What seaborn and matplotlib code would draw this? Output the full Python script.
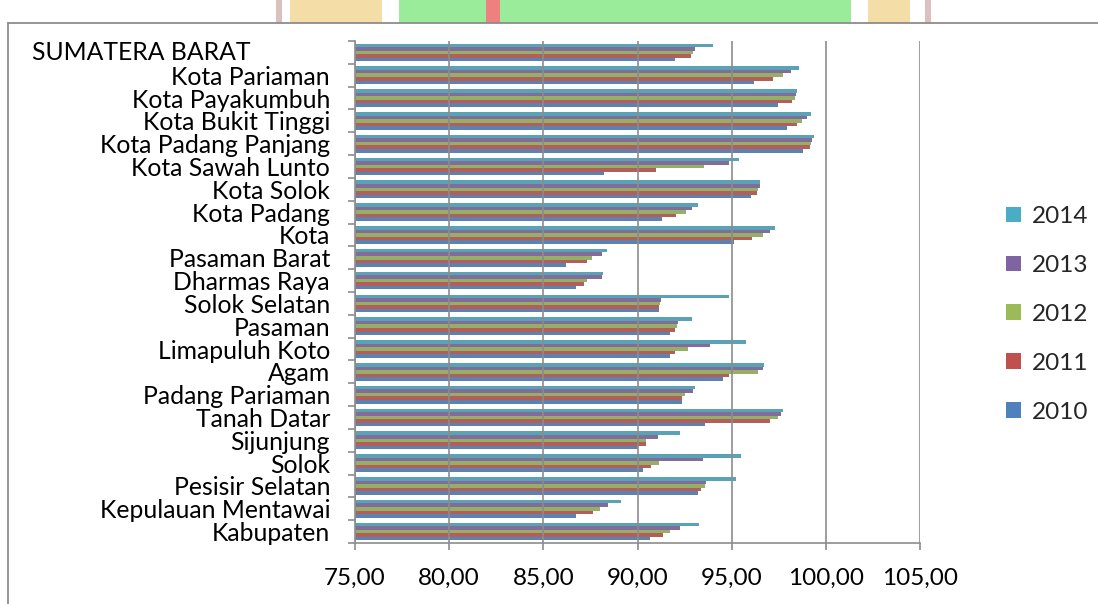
import matplotlib
matplotlib.use("Agg")
import matplotlib.pyplot as plt
import matplotlib.transforms as mtransforms
from matplotlib.patches import Rectangle, Patch
from matplotlib.lines import Line2D
import numpy as np
import pandas as pd
import seaborn as sns

# Regions, listed from the top of the chart downwards
regions = [
    "SUMATERA BARAT", "Kota Pariaman", "Kota Payakumbuh", "Kota Bukit Tinggi",
    "Kota Padang Panjang", "Kota Sawah Lunto", "Kota Solok", "Kota Padang",
    "Kota", "Pasaman Barat", "Dharmas Raya", "Solok Selatan", "Pasaman",
    "Limapuluh Koto", "Agam", "Padang Pariaman", "Tanah Datar", "Sijunjung",
    "Solok", "Pesisir Selatan", "Kepulauan Mentawai", "Kabupaten",
]

years = ["2014", "2013", "2012", "2011", "2010"]

v2014 = [94.02, 98.60, 98.48, 99.23, 99.39, 95.41, 96.52, 93.23, 97.28, 88.39, 88.17,
         94.86, 92.87, 95.77, 96.71, 93.05, 97.72, 92.26, 95.47, 95.22, 89.15, 93.29]
v2013 = [93.05, 98.15, 98.43, 99.00, 99.29, 94.86, 96.48, 92.87, 97.01, 88.09, 88.11,
         91.26, 92.15, 93.84, 96.69, 92.93, 97.64, 91.08, 93.46, 93.64, 88.46, 92.28]
v2012 = [92.97, 97.72, 98.35, 98.76, 99.23, 93.52, 96.40, 92.58, 96.65, 87.56, 87.34,
         91.22, 92.11, 92.68, 96.38, 92.54, 97.44, 90.47, 91.16, 93.60, 88.03, 91.71]
v2011 = [92.83, 97.17, 98.23, 98.48, 99.17, 90.98, 96.36, 92.07, 96.06, 87.30, 87.15,
         91.16, 91.97, 91.97, 94.88, 92.34, 97.05, 90.47, 90.73, 93.39, 87.62, 91.38]
v2010 = [91.99, 96.18, 97.48, 97.95, 98.78, 88.21, 96.04, 91.28, 95.12, 86.20, 86.73,
         91.12, 91.75, 91.75, 94.53, 92.34, 93.60, 90.02, 90.28, 93.21, 86.75, 90.69]

x_ticks = [75, 80, 85, 90, 95, 100, 105]
x_tick_labels = ["75,00", "80,00", "85,00", "90,00", "95,00", "100,00", "105,00"]

colors = {"2014": "#4BACC6", "2013": "#8064A2", "2012": "#9BBB59",
          "2011": "#C0504D", "2010": "#4F81BD"}

series = {"2014": v2014, "2013": v2013, "2012": v2012, "2011": v2011, "2010": v2010}
df = pd.DataFrame(
    [(r, y, v) for y in years for r, v in zip(regions, series[y])],
    columns=["region", "year", "value"],
)

sns.set_theme(style="white")
plt.rcParams["font.family"] = ["Lato", "DejaVu Sans"]

W, H = 1098, 604
fig = plt.figure(figsize=(W / 100, H / 100), dpi=100)
fig.patch.set_facecolor("white")

# faint logo strip above the frame
strip_y = 1 - 23 / H
def strip(x0, x1, color):
    fig.patches.append(Rectangle((x0 / W, strip_y), (x1 - x0) / W, 1 - strip_y,
                                 transform=fig.transFigure, facecolor=color,
                                 edgecolor="none", zorder=0))
strip(276, 282, "#DCC0C0")
strip(290, 382, "#F5DDA8")
strip(399, 851, "#9AEB9A")
strip(486, 500, "#EE8080")
strip(868, 910, "#F5DDA8")
strip(925, 931, "#DCC0C0")

# outer frame
grey = "#8C8C8C"
fig.add_artist(Line2D([8 / W, 1], [strip_y, strip_y], transform=fig.transFigure,
                      color=grey, lw=1.3))
fig.add_artist(Line2D([8 / W, 8 / W], [0, strip_y], transform=fig.transFigure,
                      color=grey, lw=1.3))

left, right, top, bottom = 355 / W, 920 / W, 1 - 41 / H, 1 - 543 / H
ax = fig.add_axes([left, bottom, right - left, top - bottom])
ax.set_facecolor("none")

sns.barplot(data=df, y="region", x="value", hue="year", order=regions,
            hue_order=years, palette=colors, orient="h", width=0.78, gap=0,
            legend=False, ax=ax, zorder=2, linewidth=0)

ax.set_xlim(75, 105)
ax.set_ylim(len(regions) - 0.5, -0.5)
ax.set_xlabel("")
ax.set_ylabel("")

ax.set_xticks(x_ticks)
ax.set_xticklabels(x_tick_labels, fontsize=17.5, color="black")
ax.set_yticks(range(len(regions)))
ax.set_yticklabels([""] + regions[1:], fontsize=17.8, color="black")
ax.set_yticks(np.arange(-0.5, len(regions)), minor=True)

ax.tick_params(axis="y", which="major", length=0, pad=18)
ax.tick_params(axis="y", which="minor", length=5, width=1.2, color=grey,
               direction="out", left=True)
ax.tick_params(axis="x", which="major", length=5, width=1.2, color=grey,
               direction="out", bottom=True, pad=13)

# the grand total label sits flush left
trans = mtransforms.blended_transform_factory(fig.transFigure, ax.transData)
ax.text(32 / W, 0, regions[0], transform=trans, ha="left", va="center",
        fontsize=17.8, color="black")

ax.xaxis.grid(True, color=grey, lw=1.2, zorder=3)
ax.set_axisbelow(False)
for side in ["top", "right"]:
    ax.spines[side].set_visible(False)
for side in ["left", "bottom"]:
    ax.spines[side].set_visible(True)
    ax.spines[side].set_color(grey)
    ax.spines[side].set_linewidth(1.2)

handles = [Patch(facecolor=colors[y], edgecolor="none") for y in years]
fig.legend(handles, years, loc="upper left", bbox_to_anchor=(1006 / W, 1 - 206 / H),
           frameon=False, fontsize=17.5, handlelength=0.62, handleheight=0.62,
           handletextpad=0.45, labelspacing=1.15, borderpad=0, borderaxespad=0)

fig.savefig("out.png", dpi=100, facecolor="white")
